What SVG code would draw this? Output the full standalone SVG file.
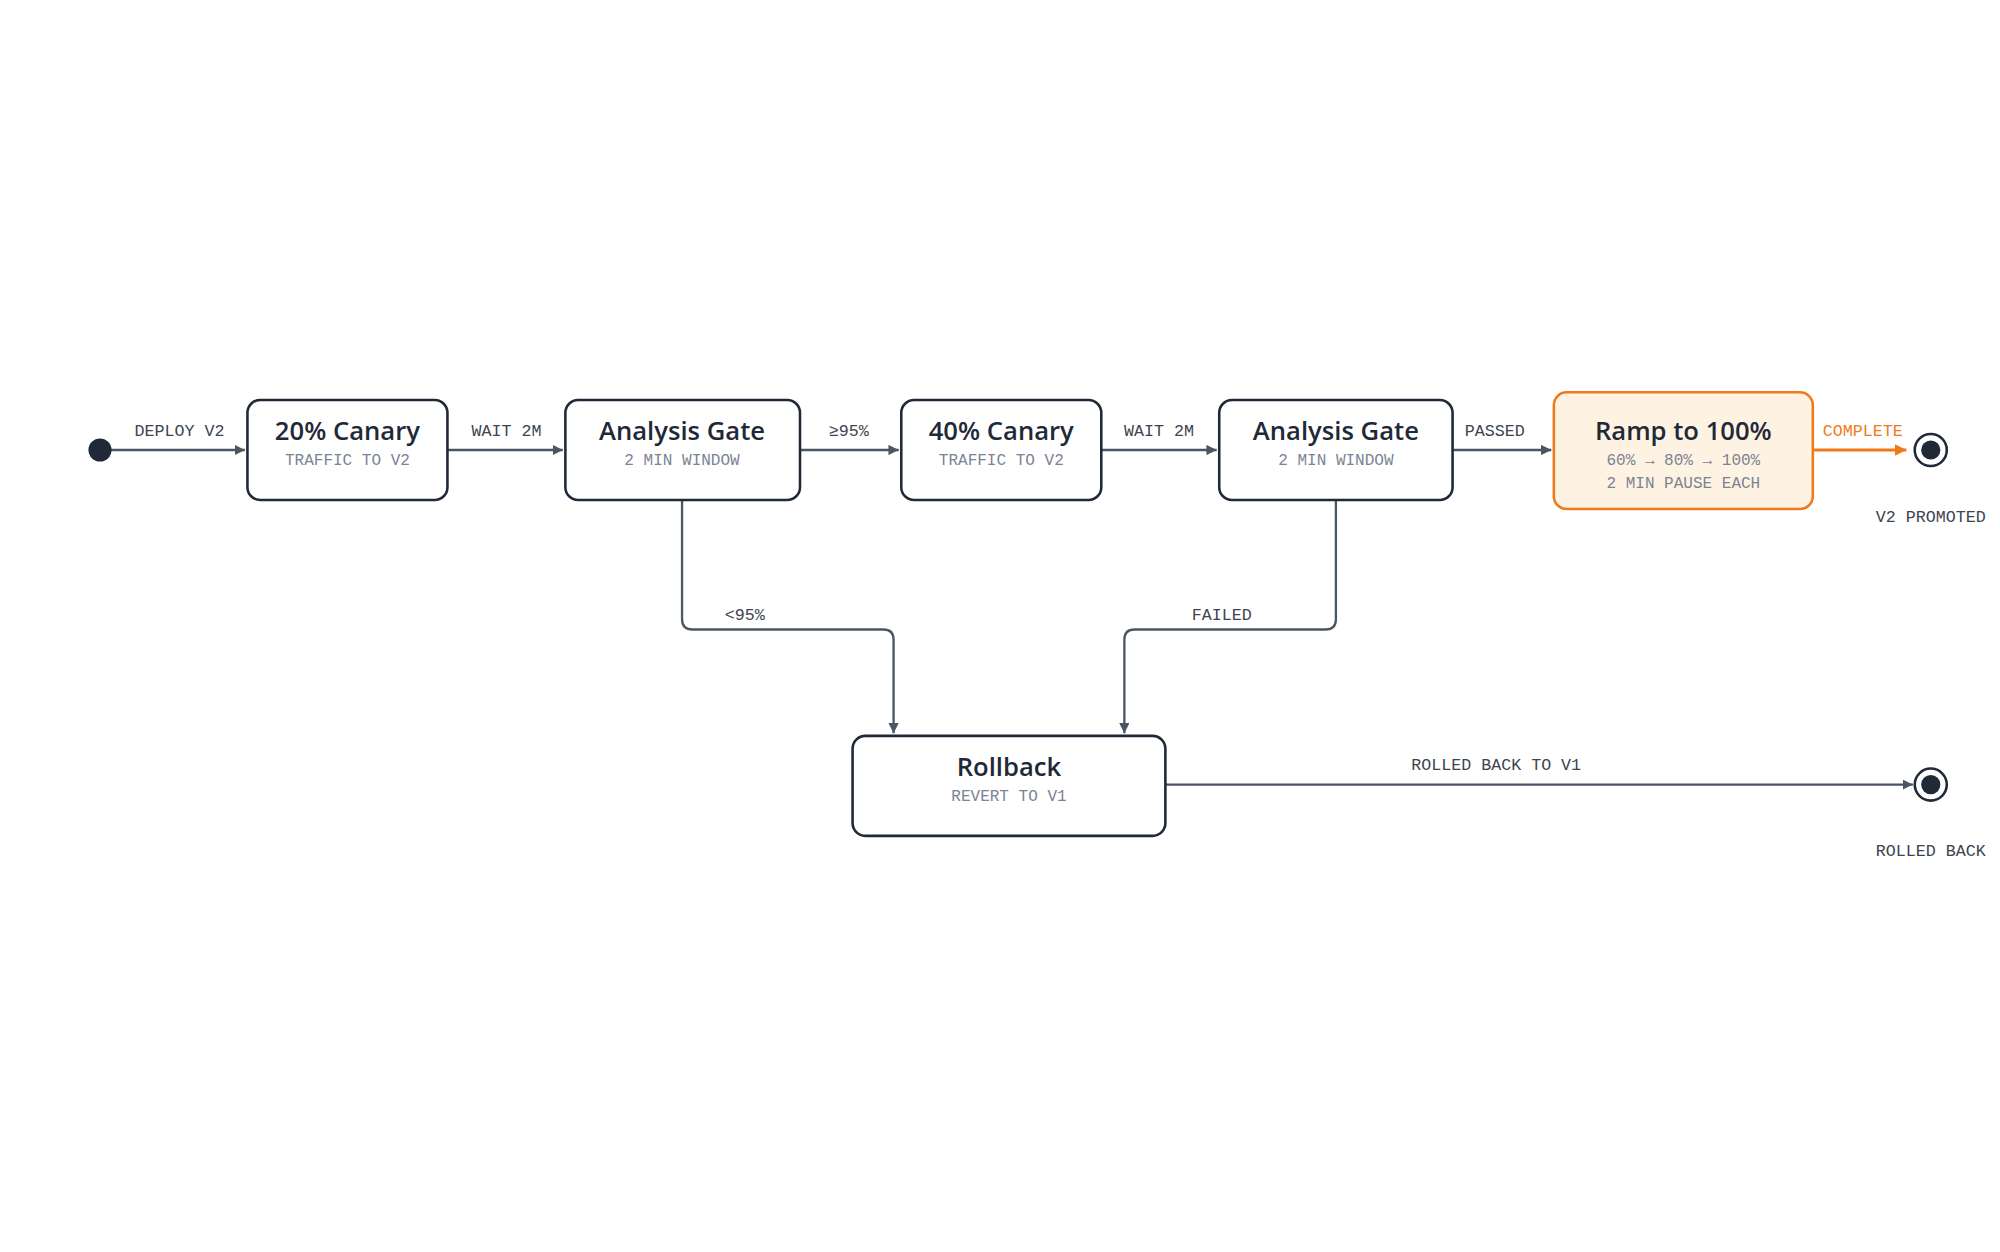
<svg xmlns="http://www.w3.org/2000/svg" width="2000" height="1252" viewBox="0 0 2000 1252">
<style>
.n{fill:#fff;stroke:#1f2937;stroke-width:2}
.t{font-family:"Open Sans","Noto Sans",sans-serif;font-weight:600;font-size:20px;fill:#1f2937;text-anchor:middle}
.s{font-family:"Liberation Mono","DejaVu Sans Mono",monospace;font-size:12.5px;fill:#7b8494;text-anchor:middle}
.l{font-family:"Liberation Mono","DejaVu Sans Mono",monospace;font-size:13px;fill:#3d4450;text-anchor:middle}
.e{fill:none;stroke:#4b5563;stroke-width:1.8}
</style>
<defs>
<marker id="a" viewBox="0 0 10 10" refX="10" refY="5" markerWidth="8" markerHeight="8" markerUnits="userSpaceOnUse" orient="auto"><path d="M0,0L10,5L0,10z" fill="#4b5563"/></marker>
<marker id="ao" viewBox="0 0 10 10" refX="10" refY="5" markerWidth="9" markerHeight="9" markerUnits="userSpaceOnUse" orient="auto"><path d="M0,0L10,5L0,10z" fill="#f07a1a"/></marker>
</defs>
<rect width="2000" height="1252" fill="#fff"/>
<g transform="scale(1.28205)">
<g id="edges">
<path class="e" d="M78,351H191" marker-end="url(#a)"/><text class="l" x="140" y="340">DEPLOY V2</text>
<path class="e" d="M349,351H439" marker-end="url(#a)"/><text class="l" x="395" y="340">WAIT 2M</text>
<path class="e" d="M624,351H701" marker-end="url(#a)"/><text class="l" x="662" y="340">≥95%</text>
<path class="e" d="M859,351H949" marker-end="url(#a)"/><text class="l" x="904" y="340">WAIT 2M</text>
<path class="e" d="M1133,351H1210" marker-end="url(#a)"/><text class="l" x="1166" y="340">PASSED</text>
<path d="M1414,351H1487" fill="none" stroke="#f07a1a" stroke-width="2.2" marker-end="url(#ao)"/><text class="l" x="1453" y="340" style="fill:#f07a1a">COMPLETE</text>
<path class="e" d="M532,390V483Q532,491 540,491H689Q697,491 697,499V572" marker-end="url(#a)"/><text class="l" x="581" y="484">&lt;95%</text>
<path class="e" d="M1042,390V483Q1042,491 1034,491H885Q877,491 877,499V572" marker-end="url(#a)"/><text class="l" x="953" y="484">FAILED</text>
<path class="e" d="M909,612H1492" marker-end="url(#a)"/><text class="l" x="1167" y="601">ROLLED BACK TO V1</text>
</g>
<g id="start"><circle cx="78" cy="351" r="9" fill="#1f2937"/></g>
<g id="c20"><rect class="n" x="193" y="312" width="156" height="78" rx="10"/><text class="t" x="271" y="343">20% Canary</text><text class="s" x="271" y="363">TRAFFIC TO V2</text></g>
<g id="g1"><rect class="n" x="441" y="312" width="183" height="78" rx="10"/><text class="t" x="532" y="343">Analysis Gate</text><text class="s" x="532" y="363">2 MIN WINDOW</text></g>
<g id="c40"><rect class="n" x="703" y="312" width="156" height="78" rx="10"/><text class="t" x="781" y="343">40% Canary</text><text class="s" x="781" y="363">TRAFFIC TO V2</text></g>
<g id="g2"><rect class="n" x="951" y="312" width="182" height="78" rx="10"/><text class="t" x="1042" y="343">Analysis Gate</text><text class="s" x="1042" y="363">2 MIN WINDOW</text></g>
<g id="ramp"><rect x="1212" y="306" width="202" height="91" rx="10" fill="#fef3e2" stroke="#f07a1a" stroke-width="2"/><text class="t" x="1313" y="343">Ramp to 100%</text><text class="s" x="1313" y="363">60% → 80% → 100%</text><text class="s" x="1313" y="381">2 MIN PAUSE EACH</text></g>
<g id="end1"><circle cx="1506" cy="351" r="12.5" fill="#fff" stroke="#1f2937" stroke-width="2"/><circle cx="1506" cy="351" r="7.5" fill="#1f2937"/><text class="l" x="1506" y="407">V2 PROMOTED</text></g>
<g id="rollback"><rect class="n" x="665" y="574" width="244" height="78" rx="10"/><text class="t" x="787" y="605">Rollback</text><text class="s" x="787" y="625">REVERT TO V1</text></g>
<g id="end2"><circle cx="1506" cy="612" r="12.5" fill="#fff" stroke="#1f2937" stroke-width="2"/><circle cx="1506" cy="612" r="7.5" fill="#1f2937"/><text class="l" x="1506" y="668">ROLLED BACK</text></g>
</g>
</svg>
